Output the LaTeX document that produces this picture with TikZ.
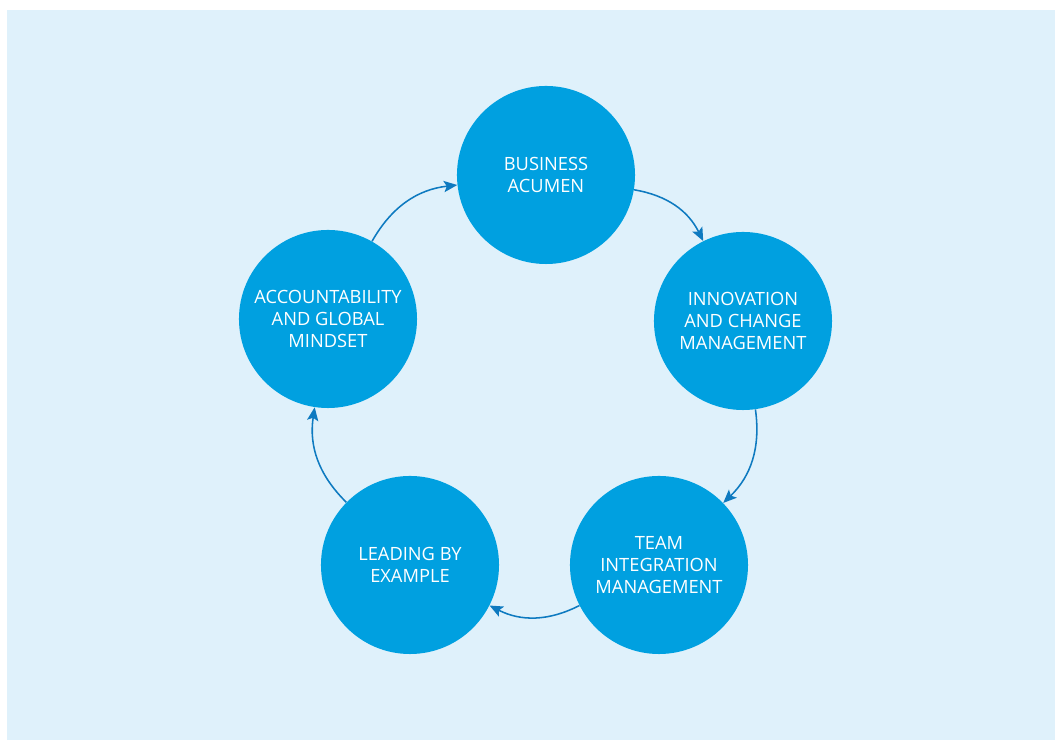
\documentclass[tikz,border=0pt]{standalone}
\usepackage{fontspec}
\setmainfont{Open Sans}
\usetikzlibrary{arrows.meta}
\definecolor{bgblue}{RGB}{223,241,251}
\definecolor{discblue}{RGB}{0,160,224}
\definecolor{arrowblue}{RGB}{14,122,192}
\tikzset{
  disc/.style={circle,fill=discblue,text=white,minimum size=4.45cm,inner sep=0pt,
    align=center,font=\fontsize{13}{15.6}\selectfont},
  link/.style={->,>={Stealth[length=9.5pt,width=8pt,inset=2pt]},draw=arrowblue,
    line width=1.1pt,bend left=27}
}
\begin{document}
\begin{tikzpicture}[x=0.025cm,y=0.025cm]
    \useasboundingbox (-537,-351) rectangle (518,389);
    \fill[bgblue] (-530,-351) rectangle (518,379);
    \node[disc] (acumen) at (9,214) {BUSINESS\\ACUMEN};
    \node[disc] (innovation) at (206,68) {INNOVATION\\AND CHANGE\\MANAGEMENT};
    \node[disc] (team) at (122,-176) {TEAM\\INTEGRATION\\MANAGEMENT};
    \node[disc] (leading) at (-127,-176) {LEADING BY\\EXAMPLE};
    \node[disc] (mindset) at (-209,70) {ACCOUNTABILITY\\AND GLOBAL\\MINDSET};
    \foreach \a/\b in {acumen/innovation,innovation/team,team/leading,leading/mindset,mindset/acumen}
    \draw[link] (\a) to (\b);
\end{tikzpicture}
\end{document}
